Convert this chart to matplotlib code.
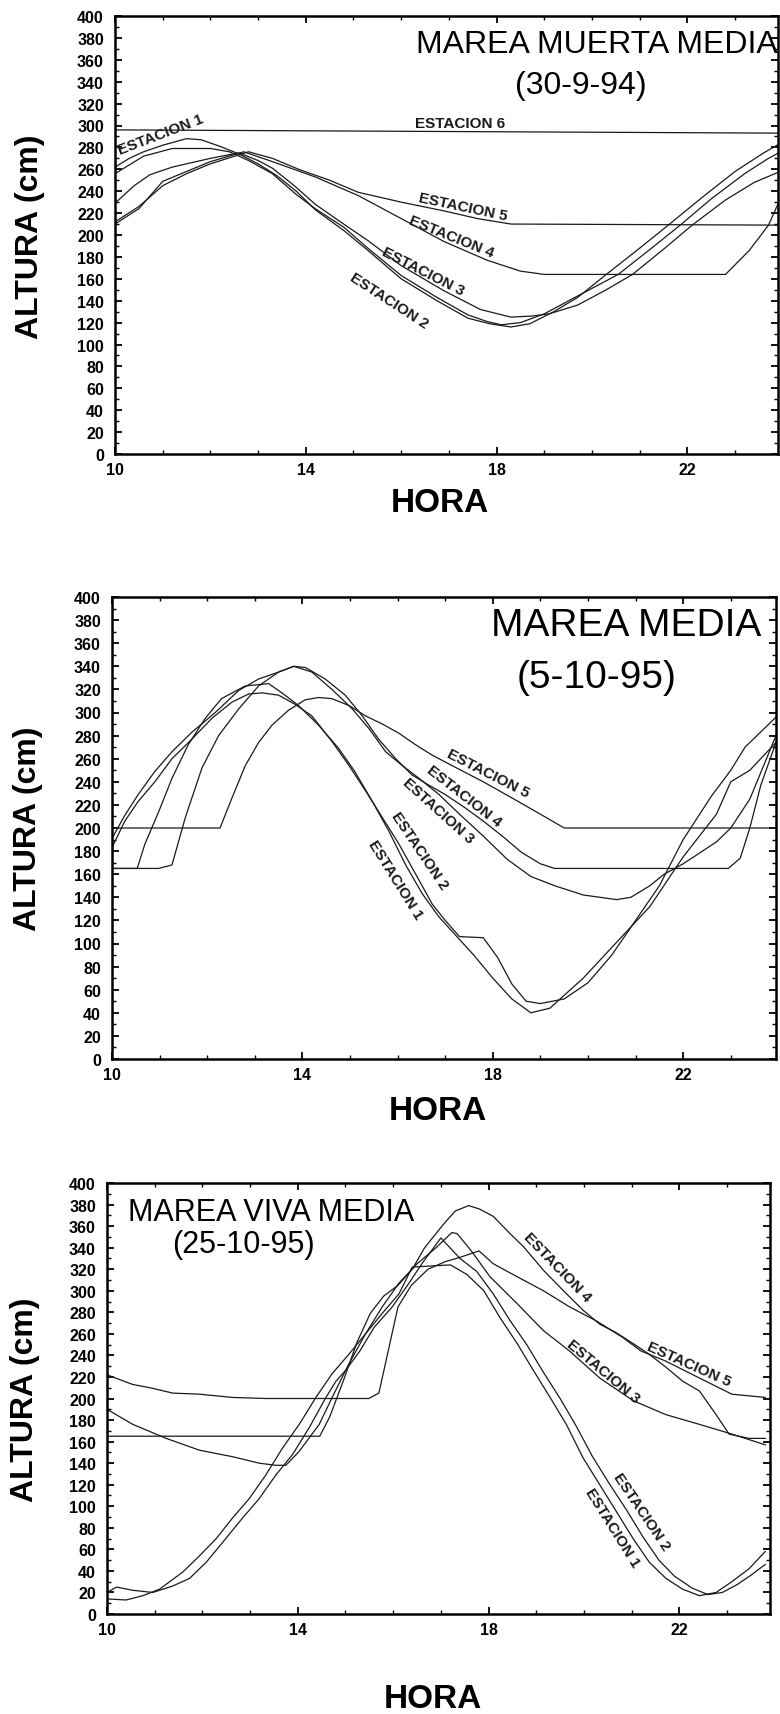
import matplotlib
matplotlib.use('Agg')
import matplotlib.pyplot as plt
from matplotlib.ticker import MultipleLocator, FixedLocator

plt.rcParams['font.family'] = ['Liberation Sans', 'DejaVu Sans']

# ---------------- panel 1: MAREA MUERTA MEDIA (30-9-94) ----------------
p1_e6_h = [10, 24]
p1_e6_v = [296, 293]
p1_e1_h = [10, 10.3, 10.6, 11.0, 11.5, 11.8, 12.2, 12.6, 13.0, 13.4, 13.8, 14.2, 14.8, 15.3, 16.0,
           16.75, 17.4, 17.85, 18.3, 18.7, 19.2, 19.7, 20.3, 21.0, 21.6, 22.3, 23.0, 23.6, 24.0]
p1_e1_v = [262, 270, 276, 282, 288, 287, 281, 274, 265, 254, 240, 223, 204, 186, 160,
           140, 124, 119, 116, 119, 130, 143, 164, 188, 209, 234, 258, 275, 285]
p1_e2_h = [10, 10.6, 11.2, 12.0, 12.4, 12.8, 13.3, 13.8, 14.2, 14.8, 15.3, 16.0, 16.75, 17.4,
           17.8, 18.1, 18.5, 19.0, 19.6, 20.55, 21.25, 21.85, 22.5, 23.2, 23.7, 24.0]
p1_e2_v = [256, 272, 279, 279, 276, 268, 256, 237, 224, 207, 188, 163, 143, 127,
           121, 118, 120, 128, 142, 164, 188, 209, 233, 256, 270, 277]
p1_e3_h = [10, 10.4, 10.73, 11.2, 11.6, 12.0, 12.6, 13.0, 13.3, 13.76, 14.2, 14.76, 15.3, 16.0,
           16.9, 17.66, 18.3, 18.75, 19.1, 19.7, 20.3, 20.85, 21.5, 22.1, 22.8, 23.4, 24.0]
p1_e3_v = [229, 245, 255, 262, 266, 270, 275, 268, 261, 245, 228, 211, 195, 172,
           149, 132, 125, 126, 128, 136, 150, 164, 187, 209, 232, 248, 259]
p1_e4_h = [10, 10.5, 11.0, 11.5, 12.0, 12.7, 13.3, 14.2, 15.1, 16.0, 16.9, 17.8, 18.5, 19.0,
           22.8, 23.3, 23.7, 24.0]
p1_e4_v = [210, 224, 249, 258, 267, 276, 267, 253, 236, 215, 194, 177, 167, 164,
           164, 186, 209, 238]
p1_e5_h = [10, 10.5, 11.0, 11.5, 12.0, 12.8, 13.3, 13.85, 14.5, 15.1, 16.0, 16.9, 17.6, 18.3, 24.0]
p1_e5_v = [212, 226, 245, 256, 265, 276, 270, 260, 250, 239, 230, 222, 215, 210, 209]

# ---------------- panel 2: MAREA MEDIA (5-10-95) ----------------
p2_e5_h = [10, 12.27, 12.52, 12.8, 13.08, 13.36, 13.71, 14.06, 14.34, 14.62, 14.98, 15.33, 15.68,
           16.03, 16.38, 16.73, 17.1, 17.8, 18.49, 19.04, 19.5, 24.0]
p2_e5_v = [200, 200, 226, 254, 274, 289, 302, 311, 313, 312, 306, 297, 290,
           282, 272, 263, 255, 240, 224, 211, 200, 200]
p2_e4_h = [10, 10.98, 11.26, 11.54, 11.89, 12.24, 12.66, 13.08, 13.5, 13.82, 14.06, 14.48, 14.9,
           15.26, 15.6, 15.96, 16.3, 16.66, 17.0, 17.4, 17.8, 18.2, 18.6, 19.0, 19.3,
           22.95, 23.2, 23.4, 23.63, 23.95]
p2_e4_v = [165, 165, 168, 209, 252, 280, 303, 323, 335, 340, 339, 329, 315,
           297, 277, 260, 246, 237, 229, 218, 206, 193, 179, 169, 165,
           165, 174, 200, 237, 274]
p2_e3_h = [10, 10.27, 10.55, 10.9, 11.26, 11.68, 12.17, 12.66, 13.08, 13.5, 13.82, 14.2, 14.62,
           15.05, 15.4, 15.75, 16.1, 16.45, 16.87, 17.3, 17.8, 18.3, 18.8, 19.3, 19.9, 20.6,
           20.9, 21.3, 21.6, 22.0, 22.7, 23.0, 23.4, 23.95]
p2_e3_v = [191, 211, 229, 249, 266, 283, 300, 319, 329, 335, 340, 335, 320,
           303, 286, 266, 254, 243, 229, 212, 193, 173, 158, 150, 142, 138,
           140, 150, 160, 169, 188, 200, 225, 280]
p2_e2_h = [10, 10.27, 10.55, 10.9, 11.26, 11.68, 12.1, 12.52, 12.87, 13.15, 13.5, 13.85, 14.2,
           14.62, 14.98, 15.33, 15.68, 16.03, 16.38, 16.73, 17.0, 17.3, 17.8, 18.1, 18.4, 18.7,
           19.0, 19.5, 20.0, 20.5, 21.0, 21.5, 22.0, 22.6, 23.0, 23.3, 23.6, 23.95]
p2_e2_v = [183, 206, 223, 240, 260, 277, 295, 309, 316, 317, 315, 307, 297,
           275, 254, 232, 209, 186, 160, 134, 120, 106, 105, 88, 65, 50,
           48, 52, 66, 90, 120, 150, 190, 228, 250, 270, 282, 296]
p2_e1_h = [10, 10.53, 10.69, 10.98, 11.26, 11.6, 11.96, 12.3, 12.8, 13.29, 13.57, 13.92, 14.34,
           14.76, 15.1, 15.47, 15.82, 16.17, 16.52, 16.87, 17.2, 17.6, 18.0, 18.4, 18.8, 19.2,
           19.9, 20.6, 21.3, 22.0, 22.7, 23.0, 23.4, 23.95]
p2_e1_v = [165, 165, 186, 214, 243, 272, 295, 312, 323, 325, 317, 306, 289,
           269, 249, 223, 197, 168, 143, 123, 108, 90, 70, 52, 40, 44,
           70, 101, 132, 175, 212, 240, 250, 274]

# ---------------- panel 3: MAREA VIVA MEDIA (25-10-95) ----------------
p3_e5_h = [10, 10.54, 10.9, 11.38, 11.94, 12.63, 13.33, 15.49, 15.7, 15.88, 16.1, 16.38, 16.73,
           17.09, 17.4, 17.8, 18.1, 18.6, 19.15, 19.7, 20.26, 20.8, 21.2, 21.7, 22.42, 23.1, 23.8]
p3_e5_v = [222, 213, 210, 205, 204, 201, 200, 200, 205, 241, 285, 305, 320,
           327, 331, 337, 325, 313, 300, 285, 272, 257, 244, 235, 219, 204, 201]
p3_e4_h = [10, 14.46, 14.67, 14.96, 15.24, 15.52, 15.8, 16.1, 16.4, 16.66, 17.06, 17.3, 17.58,
           17.8, 18.1, 18.45, 18.73, 19.15, 19.57, 19.98, 20.33, 20.68, 21.03, 21.37, 21.72,
           22.07, 22.42, 22.77, 23.04, 23.46, 23.8]
p3_e4_v = [165, 165, 183, 217, 252, 279, 295, 305, 320, 340, 362, 374, 379,
           376, 369, 353, 341, 319, 300, 282, 269, 261, 251, 241, 229,
           216, 207, 185, 167, 163, 163]
p3_e3_h = [10, 10.54, 11.24, 11.94, 12.63, 13.19, 13.54, 13.75, 14.03, 14.45, 14.72, 15.07, 15.42,
           15.77, 16.12, 16.5, 16.9, 17.23, 17.34, 17.62, 18.03, 18.6, 19.15, 19.7, 20.33, 21.03,
           21.72, 22.42, 23.1, 23.8]
p3_e3_v = [190, 176, 163, 152, 146, 140, 138, 138, 151, 176, 201, 232, 260,
           285, 307, 325, 340, 354, 353, 338, 313, 288, 263, 244, 219, 198,
           185, 176, 167, 157]
p3_e1_h = [10, 10.4, 10.75, 11.1, 11.59, 11.94, 12.29, 12.63, 12.98, 13.33, 13.68, 14.03, 14.38,
           14.72, 15.07, 15.42, 15.77, 16.12, 16.4, 17.2, 17.55, 17.9, 18.24, 18.6, 18.94, 19.29,
           19.63, 19.98, 20.33, 20.68, 21.03, 21.37, 21.72, 22.07, 22.42, 22.77, 23.1, 23.46, 23.8]
p3_e1_v = [14, 13, 17, 23, 39, 54, 70, 89, 107, 129, 154, 176, 201,
           223, 241, 260, 279, 297, 322, 324, 315, 300, 275, 251, 226, 201,
           176, 145, 120, 95, 70, 48, 33, 23, 17, 20, 30, 42, 58]
p3_e2_h = [10, 10.2, 10.54, 10.96, 11.38, 11.73, 12.08, 12.49, 12.84, 13.19, 13.54, 13.89, 14.24,
           14.59, 14.8, 15.0, 15.3, 15.6, 15.98, 16.3, 16.6, 17.0, 17.4, 17.75, 18.1, 18.44,
           18.8, 19.14, 19.5, 19.83, 20.18, 20.53, 20.9, 21.23, 21.57, 21.9, 22.27, 22.6, 22.9,
           23.2, 23.5, 23.8]
p3_e2_v = [20, 25, 22, 20, 26, 33, 48, 70, 89, 107, 129, 148, 173,
           201, 216, 226, 244, 266, 285, 305, 325, 349, 330, 318, 297, 273,
           250, 225, 200, 175, 146, 121, 96, 72, 50, 35, 24, 18, 20,
           27, 36, 46]

# station labels: (text, hour, cm, rotation)
p1_labels = [("ESTACION 6", 17.23, 302, 0), ("ESTACION 5", 17.3, 226, -12),
             ("ESTACION 4", 17.05, 199, -22), ("ESTACION 3", 16.45, 167, -27),
             ("ESTACION 2", 15.75, 140, -33), ("ESTACION 1", 10.95, 292, 21)]
p2_labels = [("ESTACION 5", 17.9, 248, -27), ("ESTACION 4", 17.4, 228, -38),
             ("ESTACION 3", 16.85, 215, -42), ("ESTACION 2", 16.47, 181, -56),
             ("ESTACION 1", 15.95, 156, -58)]
p3_labels = [("ESTACION 4", 19.43, 322, -46), ("ESTACION 5", 22.2, 232, -24),
             ("ESTACION 3", 20.4, 226, -40), ("ESTACION 2", 21.2, 95, -56),
             ("ESTACION 1", 20.6, 81, -58)]

W, H = 780, 1715
fig = plt.figure(figsize=(W / 100, H / 100), dpi=100)


def box(l, t, r, b):
    return [l / W, 1 - b / H, (r - l) / W, (b - t) / H]


def style(ax, xmax):
    ax.set_xlim(10, xmax)
    ax.set_ylim(0, 400)
    ax.xaxis.set_major_locator(FixedLocator([10, 14, 18, 22]))
    ax.xaxis.set_minor_locator(MultipleLocator(1))
    ax.yaxis.set_major_locator(MultipleLocator(20))
    ax.yaxis.set_minor_locator(MultipleLocator(10))
    ax.tick_params(which='both', direction='in', top=True, right=True, labelsize=11.5)
    ax.tick_params(axis='y', pad=8)
    ax.tick_params(axis='x', pad=6)
    ax.tick_params(which='major', length=5, width=1.3)
    ax.tick_params(which='minor', length=3, width=1)
    for lab in ax.get_xticklabels() + ax.get_yticklabels():
        lab.set_fontweight('bold')
    for s in ax.spines.values():
        s.set_linewidth(1.8)


def draw(ax, curves, labels):
    for h, v in curves:
        ax.plot(h, v, color='#1a1a1a', lw=0.9)
    for txt, x, y, rot in labels:
        ax.text(x, y, txt, rotation=rot, rotation_mode='anchor', ha='center', va='center',
                fontsize=11, fontweight='bold', color='#1a1a1a')


ax1 = fig.add_axes(box(115, 17, 778, 455))
draw(ax1, [(p1_e6_h, p1_e6_v), (p1_e1_h, p1_e1_v), (p1_e2_h, p1_e2_v), (p1_e3_h, p1_e3_v),
           (p1_e4_h, p1_e4_v), (p1_e5_h, p1_e5_v)], p1_labels)
style(ax1, 23.9)
ax1.text(20.1, 374, "MAREA MUERTA MEDIA", fontsize=23, ha='center', va='center')
ax1.text(19.77, 337, "(30-9-94)", fontsize=23, ha='center', va='center')

ax2 = fig.add_axes(box(112, 598, 776, 1060))
draw(ax2, [(p2_e1_h, p2_e1_v), (p2_e2_h, p2_e2_v), (p2_e3_h, p2_e3_v),
           (p2_e4_h, p2_e4_v), (p2_e5_h, p2_e5_v)], p2_labels)
style(ax2, 23.95)
ax2.text(20.8, 376, "MAREA MEDIA", fontsize=28, ha='center', va='center')
ax2.text(20.17, 331, "(5-10-95)", fontsize=28, ha='center', va='center')

ax3 = fig.add_axes(box(107, 1184, 770, 1615))
draw(ax3, [(p3_e1_h, p3_e1_v), (p3_e2_h, p3_e2_v), (p3_e3_h, p3_e3_v),
           (p3_e4_h, p3_e4_v), (p3_e5_h, p3_e5_v)], p3_labels)
style(ax3, 23.9)
ax3.text(13.44, 373, "MAREA VIVA MEDIA", fontsize=22, ha='center', va='center')
ax3.text(12.85, 343, "(25-10-95)", fontsize=22, ha='center', va='center')

for xc, yc in [(30, 237), (28, 829), (25, 1400)]:
    fig.text(xc / W, 1 - yc / H, "ALTURA (cm)", rotation=90, fontsize=23, fontweight='bold',
             ha='center', va='center')
for xc, yc in [(440, 503), (438, 1112), (433, 1700)]:
    fig.text(xc / W, 1 - yc / H, "HORA", fontsize=24, fontweight='bold', ha='center', va='center')

fig.savefig('out.png', dpi=100)
